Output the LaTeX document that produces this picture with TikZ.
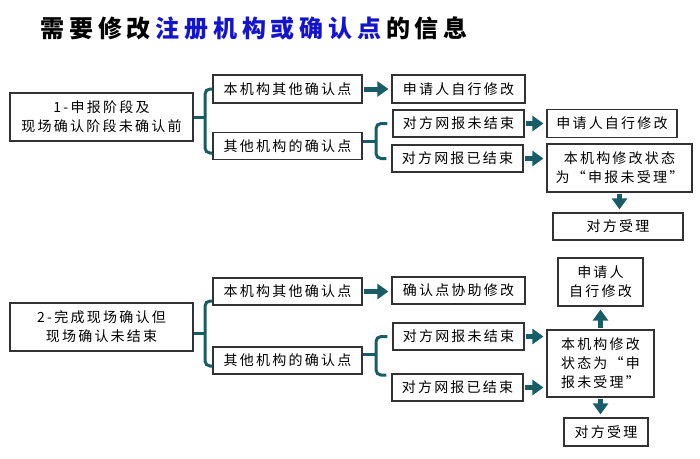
\documentclass[tikz,border=0pt]{standalone}
\usepackage{fontspec}
\setmainfont{Noto Sans CJK SC}[LetterSpace=16]
\newfontfamily\titlefont{Noto Sans CJK SC}[LetterSpace=20]
\usepackage{xcolor}
\usetikzlibrary{arrows.meta}

\definecolor{darkteal}{RGB}{24,92,104}
\definecolor{titleblue}{RGB}{20,20,205}
\definecolor{boxgray}{RGB}{50,50,50}

\tikzset{
  box/.style={draw=boxgray, line width=1.2pt, fill=white, inner sep=0pt,
    align=center, font=\fontsize{14}{19}\selectfont},
  arr/.style={darkteal, line width=5pt, -{Triangle[length=11pt,width=15pt]},
    shorten <=1pt, shorten >=3pt},
  brace/.style={darkteal, line width=3pt, rounded corners=5pt}
}

\begin{document}
\begin{tikzpicture}[x=1pt,y=1pt]
  \useasboundingbox (0,0) rectangle (700,-458);

  % title
  \node [anchor=west, font=\titlefont\bfseries\fontsize{24}{24}\selectfont] (title) at (37,-28)
    {需要修改\kern4.8pt\textcolor{titleblue}{注册机构或确认点}\kern4.8pt 的信息};

  % case 1
  \node [box, minimum width=183pt, minimum height=48pt] (a1) at (101.5,-117) {1-申报阶段及\\现场确认阶段未确认前};
  \node [box, minimum width=149pt, minimum height=28pt] (b1) at (287.5,-89) {本机构其他确认点};
  \node [box, minimum width=149pt, minimum height=27pt] (b2) at (287.5,-146) {其他机构的确认点};
  \node [box, minimum width=133pt, minimum height=28pt] (c1) at (458.5,-89) {申请人自行修改};
  \node [box, minimum width=131pt, minimum height=27pt] (d1) at (458.5,-123.5) {对方网报未结束};
  \node [box, minimum width=131pt, minimum height=27pt] (d2) at (457.5,-158.5) {对方网报已结束};
  \node [box, minimum width=130pt, minimum height=28pt] (e1) at (612,-123.5) {申请人自行修改};
  \node [box, minimum width=145pt, minimum height=48pt] (e2) at (619.5,-168) {本机构修改状态\\为“申报未受理”};
  \node [box, minimum width=130pt, minimum height=27pt] (f1) at (618,-226.5) {对方受理};

  \coordinate (k1) at (205,-117);
  \coordinate (k1t) at (205,-89);
  \coordinate (k1b) at (205,-153);
  \draw [brace] (a1.east) -- (k1);
  \draw [brace] (b1.west |- k1t) -| (k1) |- (b2.west |- k1b);
  \coordinate (k2) at (376,-141);
  \draw [brace] (b2.east |- k2) -- (k2);
  \draw [brace, shorten <=5pt, shorten >=5pt] (d1.west) -| (k2) |- (d2.west);

  \draw [arr] (b1.east) -- (b1.east -| c1.west);
  \draw [arr] (d1.east) -- (d1.east -| e1.west);
  \draw [arr] (d2.east) -- (d2.east -| e2.west);
  \draw [arr] (e2.south) -- (e2.south |- f1.north);

  % case 2
  \node [box, minimum width=183pt, minimum height=48pt] (a2) at (101.5,-327) {2-完成现场确认但\\现场确认未结束};
  \node [box, minimum width=149pt, minimum height=27pt] (b3) at (287.5,-291.5) {本机构其他确认点};
  \node [box, minimum width=149pt, minimum height=27pt] (b4) at (287.5,-360.5) {其他机构的确认点};
  \node [box, minimum width=133pt, minimum height=27pt] (c2) at (458.5,-290.5) {确认点协助修改};
  \node [box, minimum width=131pt, minimum height=27pt] (d3) at (458.5,-336.5) {对方网报未结束};
  \node [box, minimum width=131pt, minimum height=27pt] (d4) at (457.5,-387.5) {对方网报已结束};
  \node [box, minimum width=107pt, minimum height=67pt] (e3) at (600.5,-363.5) {本机构修改\\状态为“申\\报未受理”};
  \node [box, minimum width=85pt, minimum height=48pt] (g2) at (600.5,-282) {申请人\\自行修改};
  \node [box, minimum width=84pt, minimum height=28pt] (h2) at (606,-432) {对方受理};

  \coordinate (k3) at (205,-333);
  \coordinate (k3t) at (205,-301);
  \coordinate (k3b) at (205,-366);
  \draw [brace] (a2.east |- k3) -- (k3);
  \draw [brace] (b3.west |- k3t) -| (k3) |- (b4.west |- k3b);
  \coordinate (k4) at (376,-354);
  \coordinate (k4b) at (376,-375);
  \draw [brace] (b4.east |- k4) -- (k4);
  \draw [brace, shorten <=5pt, shorten >=5pt] (d3.west) -| (k4) |- (d4.west |- k4b);

  \draw [arr] (b3.east) -- (b3.east -| c2.west);
  \draw [arr] (d3.east) -- (d3.east -| e3.west);
  \draw [arr] (d4.east) -- (d4.east -| e3.west);
  \draw [arr] (e3.north) -- (e3.north |- g2.south);
  \draw [arr] (e3.south) -- (e3.south |- h2.north);
\end{tikzpicture}
\end{document}
